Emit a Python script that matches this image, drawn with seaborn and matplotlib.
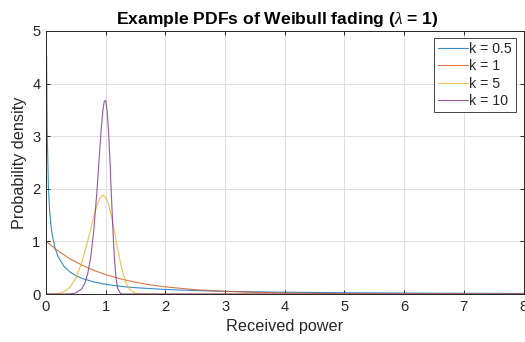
import numpy as np
import pandas as pd
import matplotlib
matplotlib.use('Agg')
import matplotlib.pyplot as plt
import seaborn as sns

# values
x_k05 = [0.01, 0.02, 0.04, 0.06, 0.08, 0.1, 0.15, 0.2, 0.3, 0.4, 0.5, 0.6, 0.8, 1.0,
         1.25, 1.5, 2, 2.5, 3, 4, 5, 6, 7, 8]
y_k05 = [4.52, 3.07, 2.05, 1.60, 1.33, 1.15, 0.877, 0.715, 0.528, 0.420, 0.349, 0.298,
         0.229, 0.184, 0.146, 0.120, 0.086, 0.065, 0.051, 0.034, 0.024, 0.018, 0.013, 0.010]

x_k1 = [0, 0.2, 0.4, 0.6, 0.8, 1.0, 1.25, 1.5, 1.75, 2, 2.5, 3, 3.5, 4, 5, 6, 7, 8]
y_k1 = [1.0, 0.819, 0.670, 0.549, 0.449, 0.368, 0.287, 0.223, 0.174, 0.135, 0.082,
        0.050, 0.030, 0.018, 0.007, 0.0025, 0.0009, 0.0003]

x_k5 = [0, 0.1, 0.2, 0.3, 0.4, 0.5, 0.6, 0.7, 0.75, 0.8, 0.85, 0.9, 0.95, 1.0, 1.05,
        1.1, 1.15, 1.2, 1.25, 1.3, 1.35, 1.4, 1.5, 1.6, 1.8, 2, 8]
y_k5 = [0, 0.0005, 0.008, 0.040, 0.127, 0.303, 0.600, 1.015, 1.248, 1.476, 1.674,
        1.815, 1.879, 1.839, 1.696, 1.463, 1.170, 0.862, 0.577, 0.349, 0.188, 0.089,
        0.013, 0.001, 0, 0, 0]

x_k10 = [0, 0.3, 0.4, 0.5, 0.6, 0.65, 0.7, 0.75, 0.8, 0.85, 0.9, 0.925, 0.95, 0.975,
         1.0, 1.025, 1.05, 1.075, 1.1, 1.125, 1.15, 1.175, 1.2, 1.25, 1.3, 1.4, 8]
y_k10 = [0, 0, 0.003, 0.020, 0.100, 0.204, 0.392, 0.710, 1.205, 1.902, 2.734, 3.134,
         3.463, 3.663, 3.679, 3.472, 3.044, 2.439, 1.763, 1.122, 0.616, 0.284, 0.106,
         0.007, 0, 0, 0]

labels = ['k = 0.5', 'k = 1', 'k = 5', 'k = 10']
colors = ['#0072BD', '#D95319', '#EDB120', '#7E2F8E']

frames = []
for lab, xs, ys in zip(labels, [x_k05, x_k1, x_k5, x_k10], [y_k05, y_k1, y_k5, y_k10]):
    frames.append(pd.DataFrame({'x': xs, 'y': ys, 'k': lab}))
df = pd.concat(frames, ignore_index=True)

sns.set_style('ticks')
plt.rcParams['font.family'] = ['Liberation Sans', 'DejaVu Sans']
plt.rcParams['mathtext.fontset'] = 'custom'
plt.rcParams['mathtext.it'] = 'Liberation Serif:italic'
txt = '#262626'

fig = plt.figure(figsize=(5.25, 3.42), dpi=100)
ax = fig.add_axes([46 / 525, 48 / 342, 477.5 / 525, 263 / 342])

sns.lineplot(data=df, x='x', y='y', hue='k', palette=colors, estimator=None,
             sort=False, lw=0.8, alpha=0.8, ax=ax)

ax.set_xlim(0, 8)
ax.set_ylim(0, 5)
ax.set_xticks(range(0, 9))
ax.set_yticks(range(0, 6))
ax.grid(True, color='#dfdfdf', lw=0.7)
ax.set_axisbelow(True)
for s in ax.spines.values():
    s.set_color(txt)
    s.set_linewidth(0.7)
ax.tick_params(direction='in', length=3, width=0.7, colors=txt, labelsize=10.6,
               top=True, right=True, pad=4)
ax.set_xlabel('Received power', fontsize=11.7, color=txt, labelpad=4)
ax.set_ylabel('Probability density', fontsize=11.7, color=txt, labelpad=4)
ax.set_title(r'Example PDFs of Weibull fading ($\lambda$ = 1)', fontsize=12.6,
             fontweight='bold', color='black', pad=5, x=0.485)

leg = ax.legend(loc='upper right', fontsize=10.2, frameon=True, fancybox=False,
                edgecolor=txt, framealpha=1, handlelength=2.1, handletextpad=0.1,
                labelspacing=0.22, borderpad=0.3, borderaxespad=0.5)
leg.get_frame().set_linewidth(0.6)
for t in leg.get_texts():
    t.set_color(txt)

fig.savefig('out.png', dpi=100)
